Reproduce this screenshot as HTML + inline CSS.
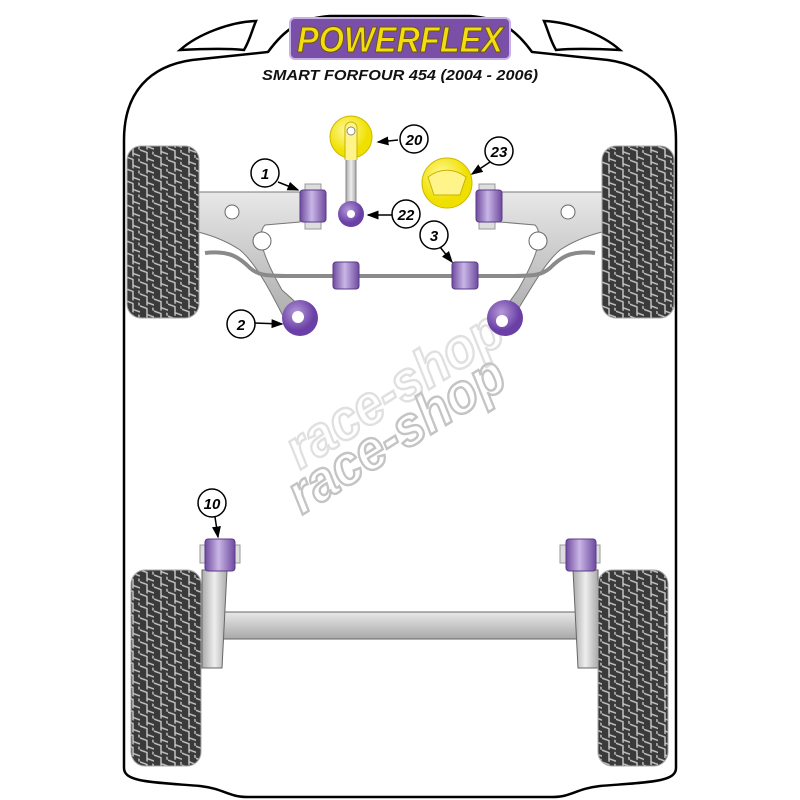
<!DOCTYPE html>
<html><head><meta charset="utf-8"><style>html,body{margin:0;padding:0;background:#fff}svg{display:block}</style></head>
<body>
<svg width="800" height="800" viewBox="0 0 800 800" xmlns="http://www.w3.org/2000/svg">
<defs>
<pattern id="tread" width="14" height="12" patternUnits="userSpaceOnUse" patternTransform="skewY(20)">
<rect width="14" height="12" fill="#3a3a3a"/>
<path d="M0 3 H7 V9 H14 M7 9 V12 M13 0 V3" stroke="#c8c8c8" stroke-width="1.4" fill="none"/>
</pattern>
<linearGradient id="pur" x1="0" x2="1"><stop offset="0" stop-color="#6e4a9e"/><stop offset=".45" stop-color="#c9b6e6"/><stop offset="1" stop-color="#6e4a9e"/></linearGradient>
<radialGradient id="purc" cx=".4" cy=".35"><stop offset="0" stop-color="#b59ad8"/><stop offset="1" stop-color="#6a3fa6"/></radialGradient>
<radialGradient id="yel" cx=".4" cy=".35"><stop offset="0" stop-color="#fff9a0"/><stop offset="1" stop-color="#f0e000"/></radialGradient>
<linearGradient id="gr" x1="0" y1="0" x2="0" y2="1"><stop offset="0" stop-color="#e8e8e8"/><stop offset="1" stop-color="#a8a8a8"/></linearGradient>
<linearGradient id="grh" x1="0" x2="1"><stop offset="0" stop-color="#aaa"/><stop offset=".5" stop-color="#eee"/><stop offset="1" stop-color="#aaa"/></linearGradient>
<marker id="ar" markerWidth="8" markerHeight="8" refX="7" refY="4" orient="auto"><path d="M0 1 L8 4 L0 7Z" fill="#000"/></marker>
</defs>
<path d="M124 768 L124 140 C124 92 150 66 192 60 L268 52 C284 30 300 18 330 16 L470 16 C500 18 516 30 532 52 L608 60 C650 66 676 92 676 140 L676 768 C676 782 650 782 600 786 C575 789 572 797 552 797 L248 797 C228 797 225 789 200 786 C150 782 124 782 124 768 Z" fill="#fff" stroke="#000" stroke-width="2.5"/>
<path d="M180 50 C198 34 230 22 256 21 C252 30 250 40 244 50 C225 48 200 49 180 50 Z" fill="#fff" stroke="#000" stroke-width="2.5"/>
<path d="M620 50 C602 34 570 22 544 21 C548 30 550 40 556 50 C575 48 600 49 620 50 Z" fill="#fff" stroke="#000" stroke-width="2.5"/>
<rect x="290" y="18" width="220" height="41" rx="5" fill="#7a4fa8" stroke="#c9b0e6" stroke-width="2"/>
<text x="400" y="52" text-anchor="middle" font-family="Liberation Sans, sans-serif" font-weight="bold" font-style="italic" font-size="36" fill="#f3dd10" stroke="#6b5800" stroke-width="1" textLength="206" lengthAdjust="spacingAndGlyphs">POWERFLEX</text>
<text x="400" y="80" text-anchor="middle" font-family="Liberation Sans, sans-serif" font-weight="bold" font-style="italic" font-size="15" fill="#111" textLength="276" lengthAdjust="spacingAndGlyphs">SMART FORFOUR 454 (2004 - 2006)</text>
<g font-family="Liberation Sans, sans-serif" font-weight="bold" font-style="italic" font-size="56" fill="none" stroke-width="2.5">
<text transform="translate(300,470) rotate(-32)" stroke="#e0e0e0" textLength="245" lengthAdjust="spacingAndGlyphs">race-shop</text>
<text transform="translate(302,515) rotate(-32)" stroke="#c4c4c4" textLength="245" lengthAdjust="spacingAndGlyphs">race-shop</text>
</g>
<path d="M198 192 L300 192 L300 222 L265 225 C255 235 265 260 282 290 L310 315 L290 330 C275 300 258 265 240 250 C225 240 210 235 198 232 Z" fill="url(#gr)" stroke="#777" stroke-width="1"/>
<path d="M602 192 L500 192 L500 222 L535 225 C545 235 535 260 518 290 L500 315 L505 330 C525 300 542 265 560 250 C575 240 590 235 602 232 Z" fill="url(#gr)" stroke="#777" stroke-width="1"/>
<circle cx="232" cy="212" r="7" fill="#fff" stroke="#666"/><circle cx="262" cy="241" r="9" fill="#fff" stroke="#666"/>
<circle cx="568" cy="212" r="7" fill="#fff" stroke="#666"/><circle cx="538" cy="241" r="9" fill="#fff" stroke="#666"/>
<path d="M205 253 C230 250 240 258 250 268 C258 275 265 276 290 276 L510 276 C535 276 542 275 550 268 C560 258 570 250 595 253" fill="none" stroke="#8a8a8a" stroke-width="4"/>
<rect x="346" y="145" width="10" height="65" fill="url(#grh)" stroke="#888"/>
<circle cx="351" cy="137" r="21" fill="url(#yel)" stroke="#cbb800"/>
<path d="M345 160 L345 128 A6 6 0 0 1 357 128 L357 160" fill="#fff48a" stroke="#c8b400"/>
<circle cx="351" cy="131" r="4" fill="#fff" stroke="#888"/>
<circle cx="351" cy="214" r="13" fill="url(#purc)"/><circle cx="351" cy="214" r="4" fill="#fff"/>
<circle cx="447" cy="183" r="25" fill="url(#yel)" stroke="#cbb800"/>
<path d="M428 177 C440 168 454 168 466 177 L460 195 L434 195 Z" fill="#fff48a" stroke="#c8b400"/>
<rect x="305" y="184" width="16" height="45" fill="#ddd" stroke="#999"/>
<rect x="300" y="190" width="26" height="32" rx="3" fill="url(#pur)" stroke="#5a3a8a"/>
<rect x="479" y="184" width="16" height="45" fill="#ddd" stroke="#999"/>
<rect x="476" y="190" width="26" height="32" rx="3" fill="url(#pur)" stroke="#5a3a8a"/>
<rect x="333" y="262" width="26" height="27" rx="3" fill="url(#pur)" stroke="#5a3a8a"/>
<rect x="452" y="262" width="26" height="27" rx="3" fill="url(#pur)" stroke="#5a3a8a"/>
<circle cx="300" cy="318" r="18" fill="url(#purc)"/><circle cx="298" cy="317" r="6" fill="#fff"/>
<circle cx="505" cy="318" r="18" fill="url(#purc)"/><circle cx="502" cy="321" r="6" fill="#fff"/>
<rect x="216" y="612" width="370" height="27" fill="url(#gr)" stroke="#666"/>
<path d="M202 570 L227 570 L222 668 L202 668 Z" fill="url(#grh)" stroke="#666"/>
<path d="M573 570 L598 570 L598 668 L578 668 Z" fill="url(#grh)" stroke="#666"/>
<rect x="200" y="545" width="40" height="18" fill="#ddd" stroke="#999"/>
<rect x="205" y="539" width="30" height="32" rx="3" fill="url(#pur)" stroke="#5a3a8a"/>
<rect x="560" y="545" width="40" height="18" fill="#ddd" stroke="#999"/>
<rect x="566" y="539" width="30" height="32" rx="3" fill="url(#pur)" stroke="#5a3a8a"/>
<rect x="127" y="146" width="72" height="172" rx="14" fill="url(#tread)" stroke="#aaa"/>
<rect x="602" y="146" width="72" height="172" rx="14" fill="url(#tread)" stroke="#aaa"/>
<rect x="131" y="570" width="70" height="196" rx="14" fill="url(#tread)" stroke="#aaa"/>
<rect x="598" y="570" width="70" height="196" rx="14" fill="url(#tread)" stroke="#aaa"/>
<g stroke="#000" stroke-width="1.5" fill="none" marker-end="url(#ar)">
<path d="M278 182 L298 190"/><path d="M398 140 L378 142"/><path d="M490 162 L472 174"/>
<path d="M392 215 L368 215"/><path d="M440 247 L452 262"/><path d="M254 323 L282 324"/><path d="M215 517 L218 537"/>
</g>
<g fill="#fff" stroke="#000" stroke-width="1.5">
<circle cx="265" cy="173" r="14"/><circle cx="414" cy="139" r="14"/><circle cx="499" cy="151" r="14"/>
<circle cx="406" cy="214" r="14"/><circle cx="434" cy="235" r="14"/><circle cx="241" cy="324" r="14"/><circle cx="212" cy="503" r="14"/>
</g>
<g font-family="Liberation Sans, sans-serif" font-weight="bold" font-style="italic" font-size="15" text-anchor="middle" fill="#000">
<text x="265" y="179">1</text><text x="414" y="145">20</text><text x="499" y="157">23</text>
<text x="406" y="220">22</text><text x="434" y="241">3</text><text x="241" y="330">2</text><text x="212" y="509">10</text>
</g>
</svg>
</body></html>
